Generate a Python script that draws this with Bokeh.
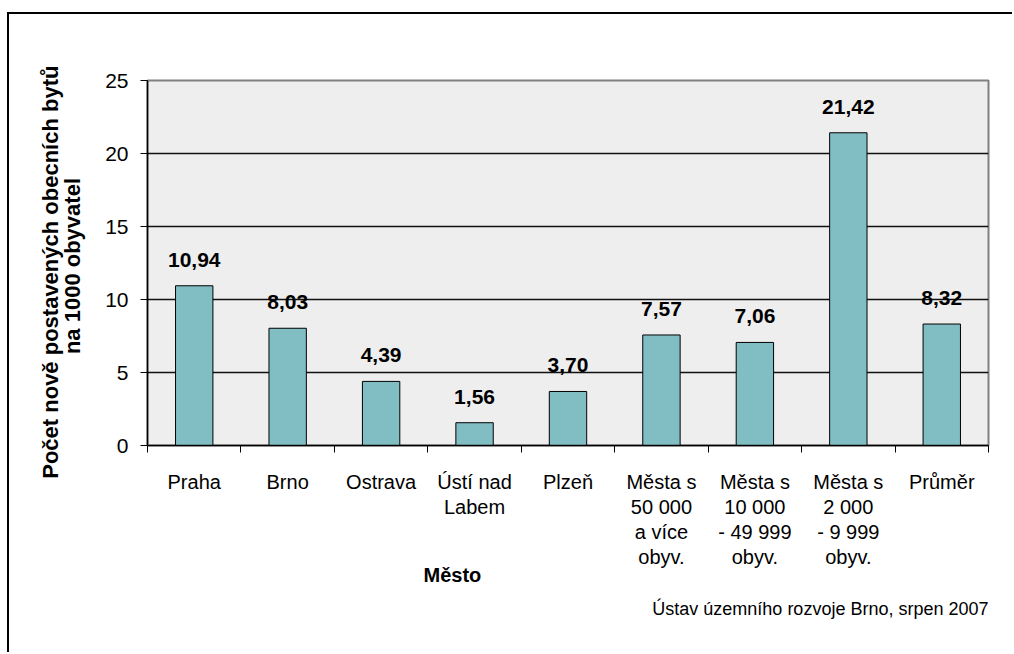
from bokeh.plotting import figure
from bokeh.models import ColumnDataSource, FixedTicker, Range1d, Title
from bokeh.core.properties import value
from bokeh.embed import file_html
from bokeh.resources import INLINE

categories = ["Praha", "Brno", "Ostrava", "Ústí nad\nLabem", "Plzeň",
              "Města s\n50 000\na více\nobyv.", "Města s\n10 000\n- 49 999\nobyv.",
              "Města s\n2 000\n- 9 999\nobyv.", "Průměr"]
values = [10.94, 8.03, 4.39, 1.56, 3.70, 7.57, 7.06, 21.42, 8.32]
value_labels = ["10,94", "8,03", "4,39", "1,56", "3,70", "7,57", "7,06", "21,42", "8,32"]
y_ticks = [0, 5, 10, 15, 20, 25]

FONT = "Liberation Sans"

centers = [i + 0.5 for i in range(len(categories))]
source = ColumnDataSource(dict(x=centers, top=values, lbl=value_labels))

p = figure(width=1005, height=640, output_backend="svg", toolbar_location=None,
           x_range=Range1d(0, len(categories)), y_range=Range1d(0, 25),
           min_border_left=138, min_border_right=26, min_border_top=66, min_border_bottom=209)
p.margin = (12, 0, 0, 7)
p.styles = {"border-top": "2px solid black", "border-left": "2px solid black"}

p.background_fill_color = "#eeeeee"
p.border_fill_color = "white"
p.outline_line_color = "#808080"
p.outline_line_width = 2

p.vbar(x="x", top="top", bottom=0, width=0.4, source=source,
       fill_color="#80BEC4", line_color="black", line_width=1)
p.text(x="x", y="top", text="lbl", source=source, text_align="center",
       text_baseline="alphabetic", y_offset=-26, text_font=value(FONT),
       text_font_style="bold", text_font_size="21px", text_color="black")

# x axis
p.xaxis.ticker = FixedTicker(ticks=centers, minor_ticks=list(range(len(categories) + 1)))
p.xaxis.major_label_overrides = {c: lab for c, lab in zip(centers, categories)}
p.xaxis.major_tick_line_color = None
p.xaxis.major_tick_out = 0
p.xaxis.major_tick_in = 0
p.xaxis.minor_tick_out = 7
p.xaxis.minor_tick_in = 0
p.xaxis.minor_tick_line_color = "black"
p.xaxis.axis_line_color = "black"
p.xaxis.axis_line_width = 1.5
p.xaxis.major_label_standoff = 18
p.xaxis.major_label_text_font = FONT
p.xaxis.major_label_text_font_size = "20px"
p.xaxis.major_label_text_line_height = 1.15
p.xaxis.major_label_text_color = "black"
p.xaxis.major_label_orientation = "horizontal"

# y axis
p.yaxis.ticker = FixedTicker(ticks=y_ticks)
p.yaxis.minor_tick_line_color = None
p.yaxis.major_tick_out = 7
p.yaxis.major_tick_in = 0
p.yaxis.major_tick_line_color = "black"
p.yaxis.axis_line_color = "black"
p.yaxis.axis_line_width = 1.5
p.yaxis.major_label_standoff = 12
p.yaxis.major_label_text_font = FONT
p.yaxis.major_label_text_font_size = "21px"
p.yaxis.major_label_text_color = "black"
p.yaxis.axis_label = "Počet nově  postavených  obecních  bytů\nna 1000  obyvatel"
p.yaxis.axis_label_text_font = FONT
p.yaxis.axis_label_text_font_style = "bold"
p.yaxis.axis_label_text_font_size = "22px"
p.yaxis.axis_label_text_line_height = 0.9
p.yaxis.axis_label_text_color = "black"
p.yaxis.axis_label_standoff = 17

p.xgrid.grid_line_color = None
p.ygrid.ticker = FixedTicker(ticks=y_ticks[1:])
p.ygrid.grid_line_color = "#111111"
p.ygrid.grid_line_width = 1.5

p.add_layout(Title(text="Město", align="left", offset=276, standoff=-28,
                   text_font=FONT, text_font_style="bold", text_font_size="20px",
                   text_color="black"), "below")
p.add_layout(Title(text="Ústav územního rozvoje Brno, srpen 2007", align="right",
                   offset=0, standoff=51, text_font=FONT, text_font_style="normal",
                   text_font_size="18px", text_color="black"), "below")

open("out.html", "w").write(file_html(p, INLINE))
